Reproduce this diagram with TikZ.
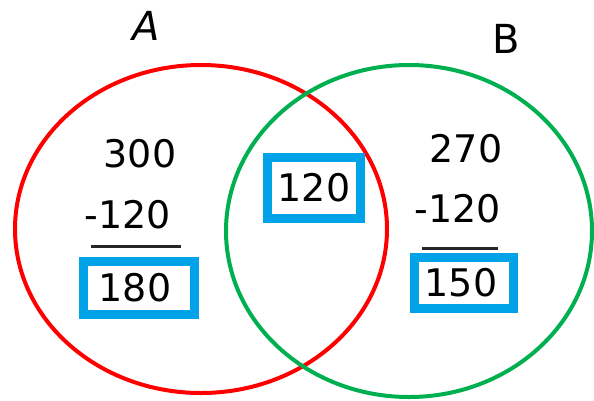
\documentclass[tikz,border=0pt]{standalone}
\usepackage{fontspec}
\setmainfont{DejaVu Sans}
\usepackage{xcolor}
\usetikzlibrary{positioning}
\definecolor{setred}{RGB}{255,0,0}
\definecolor{setgreen}{RGB}{0,176,80}
\definecolor{boxblue}{RGB}{0,162,232}
\tikzset{
  setline/.style={line width=4pt},
  num/.style={inner sep=0pt, font=\fontsize{38}{38}\selectfont},
  setname/.style={inner sep=0pt, font=\fontsize{40}{40}\selectfont},
  answer/.style={num, draw=boxblue, line width=9pt, fill=white},
  rule/.style={line width=3pt, black!85}
}

\begin{document}
\begin{tikzpicture}[x=1pt,y=-1pt]
        \useasboundingbox (0,0) rectangle (594,400);
        % the two sets
        \draw[setline, setred] (201,229) ellipse [x radius=186, y radius=164];
        \draw[setline, setgreen] (409,231) ellipse [x radius=183, y radius=166];
        \node[setname] (nameA) at (146,26) {\textit{A}};
        \node[setname] (nameB) at (506,39) {B};
        % only A
        \node[num] (totA) at (140,154) {300};
        \node[num] (subA) at (128,215) {-120};
        \draw[rule] (91,246) -- (181,246);
        \node[answer, minimum width=111pt, minimum height=53pt] (onlyA) at (139,288) {180\hspace*{8pt}};
        % both
        \node[answer, minimum width=93pt, minimum height=61pt] (both) at (314,188) {120};
        % only B
        \node[num] (totB) at (466,149) {270};
        \node[num] (subB) at (458,209) {-120};
        \draw[rule] (422,248) -- (498,248);
        \node[answer, minimum width=99pt, minimum height=51pt] (onlyB) at (464,283) {150\hspace*{6pt}};
      \end{tikzpicture}
\end{document}
